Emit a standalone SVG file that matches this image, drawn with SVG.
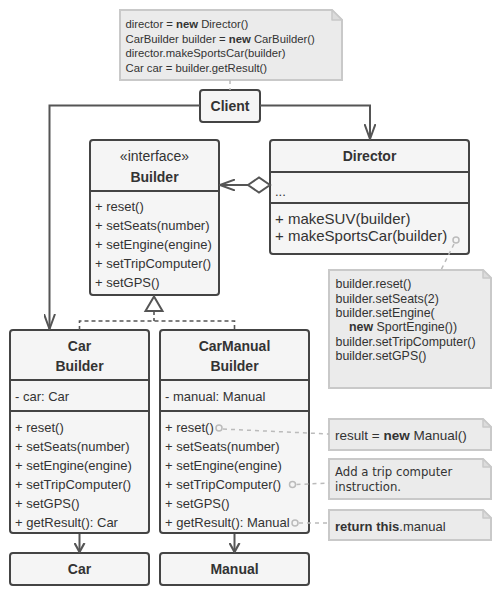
<svg xmlns="http://www.w3.org/2000/svg" width="500" height="590" viewBox="0 0 500 590">
<style>
.box{fill:#f5f5f5;stroke:#444;stroke-width:2}
.div{stroke:#444;stroke-width:2}
.note{fill:#ebebeb;stroke:#c9c9c9;stroke-width:2}
.fold{fill:#dcdcdc;stroke:#c9c9c9;stroke-width:1.5;stroke-linejoin:round}
.t{font-family:"Liberation Sans",Arial,sans-serif;font-size:13px;fill:#333}
.title{font-family:"Liberation Sans",Arial,sans-serif;font-size:14px;font-weight:bold;fill:#333;text-anchor:middle}
.nt{font-family:"Liberation Sans",Arial,sans-serif;font-size:12.4px;fill:#333}
.nt2{font-family:"Liberation Sans",Arial,sans-serif;font-size:11.3px;fill:#333}
.conn{fill:none;stroke:#555;stroke-width:2}
.dash{fill:none;stroke:#555;stroke-width:1.6;stroke-dasharray:4 3}
.ndash{fill:none;stroke:#bbb;stroke-width:1.5;stroke-dasharray:4 4}
.dot{fill:#f5f5f5;stroke:#bbb;stroke-width:1.5}
</style>
<defs>
<marker id="arrBig" viewBox="0 0 16 12" refX="15" refY="6" markerWidth="16" markerHeight="12" orient="auto" markerUnits="userSpaceOnUse">
<path d="M0,0.5 L15,6 L0,11.5" fill="none" stroke="#555" stroke-width="2"/>
</marker>
<marker id="arrSmall" viewBox="0 0 10 12" refX="9" refY="6" markerWidth="10" markerHeight="12" orient="auto" markerUnits="userSpaceOnUse">
<path d="M0,1 L9,6 L0,11" fill="none" stroke="#555" stroke-width="2.2"/>
</marker>
</defs>
<rect width="500" height="590" fill="#fff"/>

<g id="note-client">
<path class="note" d="M120,10 H332 L342,20 V80 H120 Z"/>
<path class="fold" d="M332,10 V20 H342 Z"/>
<text class="nt2" x="125.5" y="28">director = <tspan font-weight="bold">new</tspan> Director()</text>
<text class="nt2" x="125.5" y="42.5">CarBuilder builder = <tspan font-weight="bold">new</tspan> CarBuilder()</text>
<text class="nt2" x="125.5" y="57">director.makeSportsCar(builder)</text>
<text class="nt2" x="125.5" y="71.5">Car car = builder.getResult()</text>
</g>

<g id="client">
<rect class="box" x="200" y="90" width="60" height="32" rx="3"/>
<text class="title" x="230" y="111">Client</text>
</g>

<g id="builder">
<rect class="box" x="90" y="140" width="129" height="155" rx="3"/>
<line class="div" x1="90" y1="191" x2="219" y2="191"/>
<text x="154.5" y="161" style="font-family:'Liberation Sans',Arial,sans-serif;font-size:14px;fill:#333;text-anchor:middle">«interface»</text>
<text class="title" x="154.5" y="182">Builder</text>
<text class="t" x="95" y="211">+ reset()</text>
<text class="t" x="95" y="230">+ setSeats(number)</text>
<text class="t" x="95" y="249">+ setEngine(engine)</text>
<text class="t" x="95" y="268">+ setTripComputer()</text>
<text class="t" x="95" y="287">+ setGPS()</text>
</g>

<g id="director">
<rect class="box" x="270" y="140" width="199" height="114" rx="3"/>
<line class="div" x1="270" y1="172" x2="469" y2="172"/>
<line class="div" x1="270" y1="203" x2="469" y2="203"/>
<text class="title" x="369.5" y="161">Director</text>
<text class="t" x="275" y="196">...</text>
<text class="t" x="275" y="224" style="font-size:15px">+ makeSUV(builder)</text>
<text class="t" x="275" y="241" style="font-size:15px">+ makeSportsCar(builder)</text>
</g>

<g id="note-director">
<path class="note" d="M329,270 H483 L491,278 V388 H329 Z"/>
<path class="fold" d="M483,270 V278 H491 Z"/>
<text class="nt" x="335.5" y="288">builder.reset()</text>
<text class="nt" x="335.5" y="302.5">builder.setSeats(2)</text>
<text class="nt" x="335.5" y="317">builder.setEngine(</text>
<text class="nt" x="349" y="331"><tspan font-weight="bold">new</tspan> SportEngine())</text>
<text class="nt" x="335.5" y="345.5">builder.setTripComputer()</text>
<text class="nt" x="335.5" y="360">builder.setGPS()</text>
</g>

<g id="car-builder">
<rect class="box" x="10" y="330" width="139" height="203" rx="3"/>
<line class="div" x1="10" y1="380" x2="149" y2="380"/>
<line class="div" x1="10" y1="411" x2="149" y2="411"/>
<text class="title" x="79.5" y="351">Car</text>
<text class="title" x="79.5" y="371">Builder</text>
<text class="t" x="15" y="401">- car: Car</text>
<text class="t" x="15" y="432">+ reset()</text>
<text class="t" x="15" y="451">+ setSeats(number)</text>
<text class="t" x="15" y="470">+ setEngine(engine)</text>
<text class="t" x="15" y="489">+ setTripComputer()</text>
<text class="t" x="15" y="508">+ setGPS()</text>
<text class="t" x="15" y="527">+ getResult(): Car</text>
</g>

<g id="carmanual-builder">
<rect class="box" x="160" y="330" width="149" height="203" rx="3"/>
<line class="div" x1="160" y1="380" x2="309" y2="380"/>
<line class="div" x1="160" y1="411" x2="309" y2="411"/>
<text class="title" x="234.5" y="351">CarManual</text>
<text class="title" x="234.5" y="371">Builder</text>
<text class="t" x="165" y="401">- manual: Manual</text>
<text class="t" x="165" y="432">+ reset()</text>
<text class="t" x="165" y="451">+ setSeats(number)</text>
<text class="t" x="165" y="470">+ setEngine(engine)</text>
<text class="t" x="165" y="489">+ setTripComputer()</text>
<text class="t" x="165" y="508">+ setGPS()</text>
<text class="t" x="165" y="527">+ getResult(): Manual</text>
</g>

<g id="car">
<rect class="box" x="10" y="553" width="139" height="32" rx="3"/>
<text class="title" x="79.5" y="574">Car</text>
</g>

<g id="manual">
<rect class="box" x="160" y="553" width="149" height="32" rx="3"/>
<text class="title" x="234.5" y="574">Manual</text>
</g>

<g id="note-reset">
<path class="note" d="M329,419 H483 L491,427 V450 H329 Z"/>
<path class="fold" d="M483,419 V427 H491 Z"/>
<text class="t" x="335" y="440" style="font-size:13.5px">result = <tspan font-weight="bold">new</tspan> Manual()</text>
</g>

<g id="note-trip">
<path class="note" d="M329,459 H483 L491,467 V499 H329 Z"/>
<path class="fold" d="M483,459 V467 H491 Z"/>
<text x="335" y="476" style="font-family:'DejaVu Sans',sans-serif;font-size:11.7px;fill:#333">Add a trip computer</text>
<text x="335" y="491" style="font-family:'DejaVu Sans',sans-serif;font-size:11.7px;fill:#333">instruction.</text>
</g>

<g id="note-result">
<path class="note" d="M329,510 H483 L491,518 V540 H329 Z"/>
<path class="fold" d="M483,510 V518 H491 Z"/>
<text class="t" x="335" y="531"><tspan font-weight="bold">return this</tspan>.manual</text>
</g>

<g id="connectors">
<path class="ndash" d="M230,80 V90"/>
<path class="conn" d="M200,105.5 H49.5 V329" marker-end="url(#arrBig)"/>
<path class="conn" d="M260,105.5 H370 V139" marker-end="url(#arrBig)"/>
<path class="conn" d="M248,185 H220" marker-end="url(#arrBig)"/>
<path d="M248,185 L259,177.5 L270,185 L259,192.5 Z" fill="#fff" stroke="#555" stroke-width="2"/>
<path d="M154,296.5 L145.5,311 L162.5,311 Z" fill="#fff" stroke="#555" stroke-width="2"/>
<path class="dash" d="M154,311 V321 M79.5,330 V321 H234.5 V330"/>
<path class="conn" d="M79.5,534 V552" marker-end="url(#arrSmall)"/>
<path class="conn" d="M234.5,534 V552" marker-end="url(#arrSmall)"/>
<path class="ndash" d="M454,244 L441,270"/>
<circle class="dot" cx="456" cy="240" r="3"/>
<path class="ndash" d="M223,429 L329,434"/>
<circle class="dot" cx="219" cy="428" r="3"/>
<path class="ndash" d="M296.5,484.5 L329,483"/>
<circle class="dot" cx="292.5" cy="484.5" r="3"/>
<path class="ndash" d="M299,523 L329,523"/>
<circle class="dot" cx="295" cy="523" r="3"/>
</g>
</svg>
